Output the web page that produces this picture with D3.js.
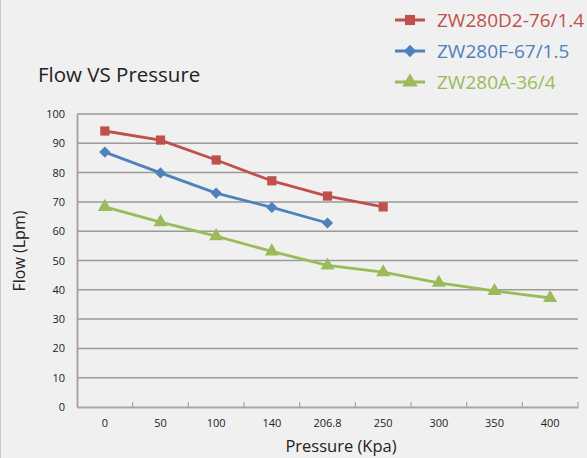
<!DOCTYPE html>
<html>
<head>
<meta charset="utf-8">
<script src="https://cdnjs.cloudflare.com/ajax/libs/d3/7.8.5/d3.min.js"></script>
<style>
  body { margin: 0; background: #f0f0f0; }
  svg { display: block; font-family: "Open Sans", "DejaVu Sans", sans-serif; }
</style>
</head>
<body>
<svg id="chart" width="587" height="458"></svg>
<script>
// data
const pressures = ["0", "50", "100", "140", "206.8", "250", "300", "350", "400"];
const yTicks = [0, 10, 20, 30, 40, 50, 60, 70, 80, 90, 100];
const seriesNames = ["ZW280D2-76/1.4", "ZW280F-67/1.5", "ZW280A-36/4"];
const flowD2 = [94.2, 91.1, 84.3, 77.2, 72.0, 68.3];
const flowF = [87.0, 79.9, 73.0, 68.1, 62.8];
const flowA = [68.3, 63.1, 58.3, 53.1, 48.3, 46.0, 42.4, 39.6, 37.2];

const colors = ["#c0504d", "#4f81bd", "#9bbb59"];
const shapes = [d3.symbolSquare, d3.symbolDiamond2 || d3.symbolDiamond, d3.symbolTriangle];
const sizes = [85, 80, 85];

const svg = d3.select("#chart");
const plotLeft = 77, plotRight = 578, plotTop = 114, plotBottom = 407;

const x = d3.scaleBand().domain(pressures).range([plotLeft, plotRight]);
const y = d3.scaleLinear().domain([0, 100]).range([plotBottom, plotTop]);

// left edge border
svg.append("line").attr("x1", 0.5).attr("y1", 0).attr("x2", 0.5).attr("y2", 458)
    .style("stroke", "#c8c8c8").style("stroke-width", 1);

// gridlines
svg.append("g")
    .selectAll("line")
    .data(yTicks.slice(1))
    .join("line")
    .attr("x1", plotLeft).attr("x2", plotRight)
    .attr("y1", d => y(d)).attr("y2", d => y(d))
    .style("stroke", "#9a9a9a").style("stroke-width", 1.5);

// y axis
const yAxis = svg.append("g")
    .attr("transform", "translate(" + plotLeft + ",0)")
    .call(d3.axisLeft(y).tickValues(yTicks).tickSize(0).tickPadding(12));
yAxis.select(".domain").style("stroke", "#a6a6a6").style("stroke-width", 2);
yAxis.selectAll("text").style("font-size", "11px").style("fill", "#222")
    .style("font-family", "'Open Sans', sans-serif");

// x axis, ticks pointing inward between categories
const xAxis = svg.append("g")
    .attr("transform", "translate(0," + plotBottom + ")")
    .call(d3.axisBottom(x).tickSize(0).tickPadding(12));
xAxis.select(".domain").style("stroke", "#a6a6a6").style("stroke-width", 2);
xAxis.selectAll("text").style("font-size", "11px").style("fill", "#222")
    .style("font-family", "'Open Sans', sans-serif");
xAxis.selectAll(".sep")
    .data(d3.range(1, pressures.length + 1))
    .join("line")
    .attr("class", "sep")
    .attr("x1", i => plotLeft + i * x.step()).attr("x2", i => plotLeft + i * x.step())
    .attr("y1", -5).attr("y2", 0)
    .style("stroke", "#a6a6a6").style("stroke-width", 1.2);

// series
const allSeries = [flowD2, flowF, flowA];
const line = d3.line()
    .x((d, i) => x(pressures[i]) + x.bandwidth() / 2)
    .y(d => y(d));

allSeries.forEach(function(values, s) {
    svg.append("path")
        .datum(values)
        .attr("fill", "none")
        .attr("stroke", colors[s])
        .attr("stroke-width", 2.8)
        .attr("stroke-linejoin", "round")
        .attr("d", line);
    svg.append("g")
        .selectAll("path")
        .data(values)
        .join("path")
        .attr("d", d3.symbol().type(shapes[s]).size(sizes[s]))
        .attr("transform", (d, i) => "translate(" + (x(pressures[i]) + x.bandwidth() / 2) + "," + y(d) + ")")
        .style("fill", colors[s]);
});

// legend
const legendX = 395, legendY = 20, legendGap = 31;
seriesNames.forEach(function(name, s) {
    const ly = legendY + s * legendGap;
    svg.append("line")
        .attr("x1", legendX).attr("x2", legendX + 30).attr("y1", ly).attr("y2", ly)
        .style("stroke", colors[s]).style("stroke-width", 3);
    svg.append("path")
        .attr("d", d3.symbol().type(shapes[s]).size(sizes[s] * 1.2))
        .attr("transform", "translate(" + (legendX + 15) + "," + ly + ")")
        .style("fill", colors[s]);
    svg.append("text")
        .attr("x", legendX + 42).attr("y", ly + 7)
        .text(name)
        .style("font-size", "19px").style("fill", colors[s]);
});

// titles
svg.append("text").text("Flow VS Pressure")
    .attr("x", 38).attr("y", 82)
    .style("font-size", "20.5px").style("fill", "#222");
svg.append("text").text("Pressure (Kpa)")
    .attr("x", 341).attr("y", 452).attr("text-anchor", "middle")
    .style("font-size", "16.5px").style("fill", "#222");
svg.append("text").text("Flow (Lpm)")
    .attr("transform", "translate(25,251) rotate(-90)").attr("text-anchor", "middle")
    .style("font-size", "16px").style("fill", "#222");
</script>
</body>
</html>
